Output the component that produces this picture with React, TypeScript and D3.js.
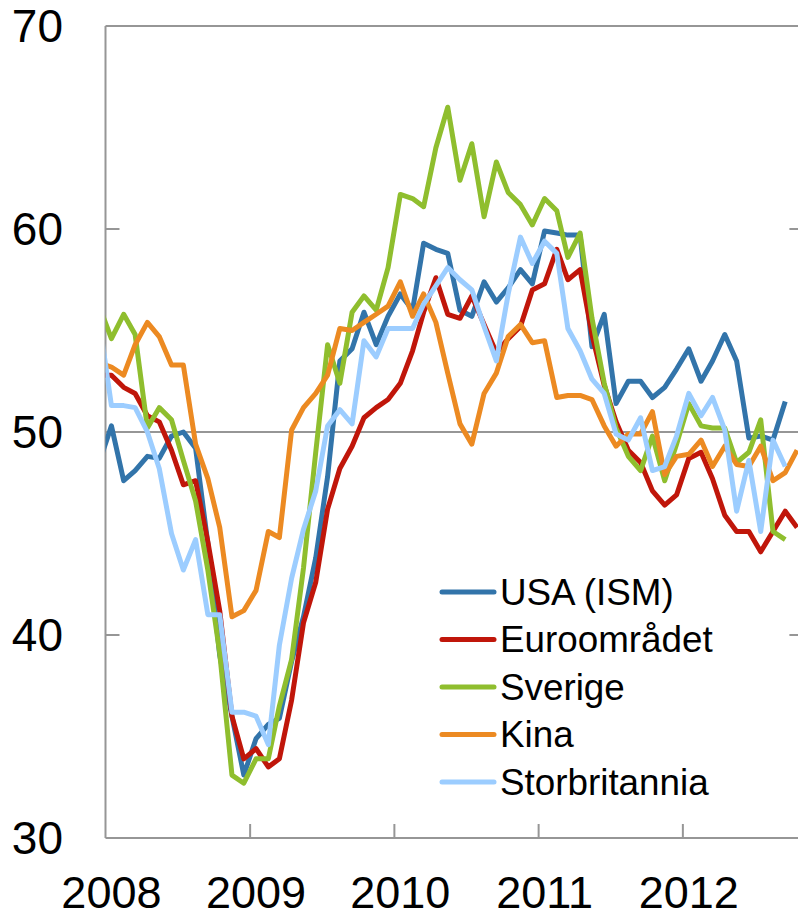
import React from 'react';
import * as d3 from 'd3';

// Monthly PMI, Dec 2007 - Oct 2012 (first point sits just left of the axis and is clipped)
const months = d3.timeMonth.range(new Date(2007, 11, 1), new Date(2012, 10, 1));

const usa = [48.5, 50.3, 47.6, 48.1, 48.8, 48.7, 49.8, 50.0, 49.2, 44.5, 39.0, 36.0, 33.1,
  34.9, 35.6, 35.9, 38.7, 40.9, 43.8, 47.8, 53.5, 54.1, 55.9, 54.3, 55.7,
  56.8, 56.0, 59.3, 59.0, 58.8, 56.0, 55.7, 57.4, 56.4, 57.1, 58.0, 57.3,
  59.9, 59.8, 59.7, 59.7, 54.2, 55.8, 51.4, 52.5, 52.5, 51.7, 52.2, 53.1,
  54.1, 52.5, 53.5, 54.8, 53.5, 49.7, 49.8, 49.6, 51.5];

const euro = [52.8, 52.8, 52.2, 51.9, 50.8, 50.5, 49.1, 47.4, 47.6, 44.6, 41.2, 36.0, 33.9,
  34.4, 33.5, 33.9, 36.8, 40.6, 42.6, 46.2, 48.2, 49.3, 50.7, 51.2, 51.6,
  52.4, 54.0, 55.9, 57.6, 55.8, 55.6, 56.7, 55.3, 53.9, 54.6, 55.2, 57.0,
  57.3, 59.0, 57.5, 58.0, 54.8, 52.3, 50.5, 49.1, 48.5, 47.1, 46.4, 46.9,
  48.7, 49.0, 47.7, 45.9, 45.1, 45.1, 44.1, 45.1, 46.1, 45.3];

const sweden = [56.2, 54.6, 55.8, 54.8, 50.2, 51.2, 50.6, 48.6, 46.6, 43.2, 39.1, 33.1, 32.7,
  33.9, 33.9, 36.5, 38.8, 43.3, 49.0, 54.3, 52.4, 55.9, 56.7, 56.0, 58.1,
  61.7, 61.5, 61.1, 64.0, 66.0, 62.4, 64.2, 60.6, 63.3, 61.8, 61.2, 60.2,
  61.5, 60.9, 58.6, 59.8, 55.6, 52.4, 50.2, 48.8, 48.1, 49.8, 47.6, 49.4,
  51.4, 50.3, 50.2, 50.2, 48.5, 49.0, 50.6, 45.1, 44.7];

const china = [53.4, 53.2, 52.8, 54.3, 55.4, 54.7, 53.3, 53.3, 49.4, 47.7, 45.3, 40.9, 41.2,
  42.2, 45.1, 44.8, 50.1, 51.2, 51.9, 52.8, 55.1, 55.0, 55.4, 55.8, 56.2,
  57.4, 55.7, 56.8, 55.4, 52.9, 50.4, 49.4, 51.9, 52.9, 54.7, 55.3, 54.4,
  54.5, 51.7, 51.8, 51.8, 51.6, 50.3, 49.3, 49.9, 49.9, 51.0, 47.9, 48.8,
  48.9, 49.6, 48.3, 49.3, 48.4, 48.3, 49.3, 47.6, 48.0, 49.1];

const uk = [55.5, 51.3, 51.3, 51.2, 50.0, 48.2, 45.0, 43.2, 44.7, 41.0, 41.0, 36.2, 36.2,
  36.0, 34.6, 39.5, 42.8, 45.2, 47.1, 50.3, 51.1, 50.4, 54.5, 53.7, 55.1,
  55.1, 55.1, 56.3, 57.2, 58.1, 57.5, 57.0, 55.2, 53.5, 56.8, 59.6, 58.3,
  59.4, 58.8, 55.1, 54.0, 52.6, 51.9, 49.9, 49.6, 50.7, 48.1, 48.3, 49.8,
  51.9, 50.8, 51.7, 50.1, 46.1, 48.6, 45.1, 49.6, 48.3];

const seriesNames = ['USA (ISM)', 'Euroområdet', 'Sverige', 'Kina', 'Storbritannia'];
const seriesValues = [usa, euro, sweden, china, uk];
const seriesColors = ['#3274aa', '#c0160a', '#8fbe2e', '#ec8a22', '#9ccdff'];

const yTicks = [30, 40, 50, 60, 70];
const years = [2008, 2009, 2010, 2011, 2012];

const W = 798;
const H = 918;
const left = 105.5;
const right = 803.4;
const top = 26;
const bottom = 838;

const App = () => {
  const x = d3.scaleTime()
    .domain([new Date(2008, 0, 1), new Date(2012, 10, 1)])
    .range([left, right]);
  const y = d3.scaleLinear().domain([30, 70]).range([bottom, top]);

  const mid = (d: Date) => new Date(d.getFullYear(), d.getMonth(), 16);

  const line = d3.line<number>()
    .x((_, i) => x(mid(months[i])))
    .y((v) => y(v));

  const axisColor = '#969696';
  const font = '"Liberation Sans", Arial, sans-serif';

  return (
    <svg width={W} height={H} style={{ position: 'absolute', left: 0, top: 0, background: '#fff' }} fontFamily={font}>
      <defs>
        <clipPath id="plot">
          <rect x={left} y={top - 4} width={right - left} height={bottom - top + 4} />
        </clipPath>
      </defs>

      {/* frame */}
      <line x1={left} x2={right} y1={y(70)} y2={y(70)} stroke={axisColor} strokeWidth={2} />
      <line x1={left} x2={right} y1={y(50)} y2={y(50)} stroke={axisColor} strokeWidth={2} />
      <line x1={left} x2={left} y1={top} y2={bottom} stroke={axisColor} strokeWidth={2} />
      <line x1={right} x2={right} y1={top} y2={bottom} stroke={axisColor} strokeWidth={2} />
      {[40, 60].map((v) => (
        <g key={v}>
          <line x1={left} x2={left + 14} y1={y(v)} y2={y(v)} stroke={axisColor} strokeWidth={2} />
          <line x1={right - 14} x2={right} y1={y(v)} y2={y(v)} stroke={axisColor} strokeWidth={2} />
        </g>
      ))}
      {years.slice(1).map((yr) => (
        <line key={yr} x1={x(new Date(yr, 0, 1))} x2={x(new Date(yr, 0, 1))} y1={bottom} y2={bottom - 14}
          stroke={axisColor} strokeWidth={2} />
      ))}

      {/* series */}
      <g clipPath="url(#plot)">
        {seriesValues.map((vals, i) => (
          <path key={seriesNames[i]} d={line(vals) || ''} fill="none" stroke={seriesColors[i]}
            strokeWidth={5} strokeLinejoin="round" />
        ))}
      </g>

      <line x1={left} x2={right} y1={bottom} y2={bottom} stroke={axisColor} strokeWidth={2} />

      {/* y labels */}
      {yTicks.map((v) => (
        <text key={v} x={63} y={y(v)} textAnchor="end" dominantBaseline="central" fontSize={46} fill="#000">
          {v}
        </text>
      ))}

      {/* x labels */}
      {years.map((yr) => (
        <text key={yr} x={x(new Date(yr, 0, 16))} y={908} textAnchor="middle" fontSize={45} fill="#000">
          {yr}
        </text>
      ))}

      {/* legend */}
      {seriesNames.map((name, i) => {
        const ly = 592 + i * 47.5;
        return (
          <g key={name}>
            <line x1={442} x2={494} y1={ly} y2={ly} stroke={seriesColors[i]} strokeWidth={5} strokeLinecap="round" />
            <text x={500} y={ly} dominantBaseline="central" fontSize={36.8} fill="#000">{name}</text>
          </g>
        );
      })}
    </svg>
  );
};

export default App;
